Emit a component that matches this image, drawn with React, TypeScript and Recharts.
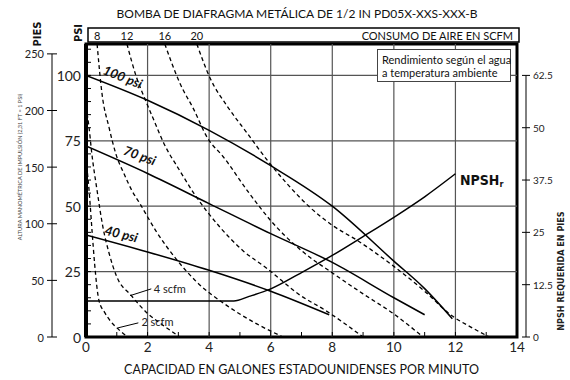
import { ComposedChart, Line, XAxis, YAxis, ReferenceLine, ReferenceArea, ReferenceDot } from 'recharts';

// curvas de presión de aire (gpm -> psi)
const PSI100_GPM = [0, 2, 4, 6, 8, 10, 11, 11.9];
const PSI100_HEAD = [100, 90.5, 79, 65.5, 50, 29, 18.5, 7];
const PSI70_GPM = [0, 2, 4, 6, 8, 10, 11];
const PSI70_HEAD = [73, 62.5, 51, 39.5, 28.5, 15, 8.5];
const PSI40_GPM = [0, 2, 4, 6, 7.9];
const PSI40_HEAD = [39, 32.5, 25.5, 17.5, 8.5];

// NPSH requerida (gpm -> pies)
const NPSH_GPM = [0, 4.8, 5.3, 6, 7, 8, 9, 10, 11, 12];
const NPSH_FT = [8.6, 8.6, 9.7, 11.5, 15.4, 19.5, 24, 28.6, 33.5, 39];

// consumo de aire (scfm)
const SCFM2_GPM = [0, 0.1, 0.2, 0.28, 0.42, 0.6, 0.8, 1.05, 1.35];
const SCFM2_HEAD = [68, 56, 40, 28, 14, 9.5, 6, 3, 0];
const SCFM4_GPM = [0, 0.1, 0.18, 0.36, 0.55, 0.75, 1.0, 1.46, 2.0, 2.5, 3.05];
const SCFM4_HEAD = [88, 80, 71, 56, 42, 32, 23, 16, 9, 4.5, 0];
const SCFM8_GPM = [0.36, 0.52, 0.75, 0.97, 1.25, 1.49, 1.75, 2.3, 2.95, 3.6, 4.58, 5.55, 6.4];
const SCFM8_HEAD = [112, 93, 80, 70, 62, 56, 51, 40, 29.5, 21, 12, 5, 0];
const SCFM12_GPM = [1.33, 1.62, 1.95, 2.2, 2.53, 3.05, 3.5, 4.35, 5.1, 5.9, 6.95, 7.8, 9.0];
const SCFM12_HEAD = [112, 100, 90, 83, 74, 63.5, 55, 42, 33, 26, 16, 10, 0];
const SCFM16_GPM = [2.56, 3.05, 3.5, 3.95, 4.45, 5.3, 6, 7, 8, 9, 10, 10.95];
const SCFM16_HEAD = [112, 97, 87, 76, 69, 55, 44.5, 33, 24.5, 16.5, 8.8, 0];
const SCFM20_GPM = [3.6, 4.03, 4.6, 5.23, 5.88, 6.5, 7.27, 8.0, 8.8, 10, 11, 11.9, 12.5, 13.1];
const SCFM20_HEAD = [112, 99, 88, 78, 67.7, 59, 49.6, 42.7, 37, 27, 17.5, 8, 3.8, 0];

const SCFM_TOP_LABELS = ['8', '12', '16', '20'];
const SCFM_TOP_GPM = [SCFM8_GPM[0], SCFM12_GPM[0], SCFM16_GPM[0], SCFM20_GPM[0]];

// ejes
const GPM_TICKS = [0, 1, 2, 3, 4, 5, 6, 7, 8, 9, 10, 11, 12, 13, 14];
const PSI_TICKS = [0, 5, 10, 15, 20, 25, 30, 35, 40, 45, 50, 55, 60, 65, 70, 75, 80, 85, 90, 95, 100, 105, 110];
const PIES_TICKS = [0, 50, 100, 150, 200, 250];
const NPSH_TICKS = [0, 12.5, 25, 37.5, 50, 62.5];
const GRID_GPM = [2, 4, 6, 8, 10, 12];
const GRID_PSI = [25, 50, 75, 100];

const GPM_MAX = 14;
const PSI_MAX = 112;
const PIES_MAX = PSI_MAX * 2.31; // 2,31 ft = 1 psi
const NPSH_MAX = PSI_MAX * 0.625;

// etiquetas sobre las curvas
const CURVE_LABELS = [
  { text: '100 psi', gpm: 1.2, psi: 99.5, angle: 22 },
  { text: '70 psi', gpm: 1.75, psi: 69.5, angle: 20 },
  { text: '40 psi', gpm: 1.15, psi: 39.5, angle: 14 },
];
const SCFM_NOTES = [
  { text: '4 scfm', gpm: 2.2, psi: 18.6, from: [1.43, 15.8], to: [2.12, 18.4] },
  { text: '2 scfm', gpm: 1.8, psi: 6.0, from: [1.04, 3.5], to: [1.7, 5.4] },
];

const pts = (xs: number[], ys: number[]) => xs.map((x, i) => ({ x, y: ys[i] }));

const FONT = 'Lato, "Open Sans", sans-serif';
const NARROW = '"Liberation Sans Narrow", "DejaVu Sans Condensed", Lato, sans-serif';

const W = 570;
const H = 380;
const MARGIN = { top: 28, right: 0, bottom: 0, left: 12 };
const PIES_W = 40;
const PSI_W = 34;
const NPSH_W = 53;
const TOP_H = 16;
const BOTTOM_H = 43;
const PLOT_L = MARGIN.left + PIES_W + PSI_W;
const PLOT_R = W - MARGIN.right - NPSH_W;
const PLOT_T = MARGIN.top + TOP_H;
const PLOT_B = H - MARGIN.bottom - BOTTOM_H;
const PLOT_H = PLOT_B - PLOT_T;

const PIES_X = MARGIN.left + PIES_W;
const NPSH_X = PLOT_R + 9;

const PsiTick = (p: any) => {
  const v = p.payload.value;
  return (
    <g>
      <line x1={PLOT_L} x2={PLOT_L + 5} y1={p.y} y2={p.y} stroke="#000" strokeWidth={1} />
      {v % 25 === 0 && (
        <text x={PLOT_L - 5} y={p.y} textAnchor="end" dominantBaseline="central" fontSize={14} fill="#222" fontFamily={FONT}>
          {v}
        </text>
      )}
    </g>
  );
};

const PiesTick = (p: any) => {
  const v = p.payload.value;
  const step = (PLOT_H * 50) / PIES_MAX;
  return (
    <g>
      {v > 0 && <line x1={PIES_X} x2={PIES_X} y1={p.y} y2={p.y + step} stroke="#000" strokeWidth={1} />}
      <line x1={PIES_X - 5} x2={PIES_X + 5} y1={p.y} y2={p.y} stroke="#000" strokeWidth={1} />
      <text x={PIES_X - 8} y={p.y} textAnchor="end" dominantBaseline="central" fontSize={11} fill="#222" fontFamily={FONT}>
        {v}
      </text>
    </g>
  );
};

const NpshTick = (p: any) => {
  const v = p.payload.value;
  const step = (PLOT_H * 12.5) / NPSH_MAX;
  return (
    <g>
      {v > 0 && <line x1={NPSH_X} x2={NPSH_X} y1={p.y} y2={p.y + step} stroke="#000" strokeWidth={1} />}
      <line x1={NPSH_X - 4} x2={NPSH_X + 4} y1={p.y} y2={p.y} stroke="#000" strokeWidth={1} />
      <text x={NPSH_X + 7} y={p.y} dominantBaseline="central" fontSize={10} fill="#222" fontFamily={FONT}>
        {v}
      </text>
    </g>
  );
};

const GpmTick = (p: any) => {
  const v = p.payload.value;
  return (
    <g>
      <line x1={p.x} x2={p.x} y1={PLOT_B} y2={PLOT_B - 5} stroke="#000" strokeWidth={1} />
      {v % 2 === 0 && (
        <text x={p.x} y={PLOT_B + 10} textAnchor="middle" dominantBaseline="central" fontSize={13.5} fill="#222" fontFamily={FONT}>
          {v}
        </text>
      )}
    </g>
  );
};

const TopTick = (p: any) => (
  <text x={p.x} y={PLOT_T - 9} textAnchor="middle" dominantBaseline="central" fontSize={11} fill="#111" fontFamily={FONT}>
    {SCFM_TOP_LABELS[SCFM_TOP_GPM.indexOf(p.payload.value)]}
  </text>
);

const TopBox = () => (
  <g>
    <rect x={PLOT_L + 2} y={PLOT_T - 16} width={PLOT_R - PLOT_L} height={14} fill="none" stroke="#000" strokeWidth={1.5} />
    <text x={PLOT_R - 4} y={PLOT_T - 9} textAnchor="end" dominantBaseline="central" fontSize={11} fill="#111" fontFamily={FONT}>
      CONSUMO DE AIRE EN SCFM
    </text>
  </g>
);

const PiesLabel = () => (
  <g fontFamily={NARROW}>
    <text transform={`translate(${PIES_X - 15}, 34) rotate(-90)`} textAnchor="middle" dominantBaseline="central" fontSize={11} fontWeight="bold" fill="#111">
      PIES
    </text>
    <text transform={`translate(19, 167) rotate(-90)`} textAnchor="middle" dominantBaseline="central" fontSize={5.6} fill="#444" fontFamily={FONT}>
      ALTURA MANOMÉTRICA DE IMPULSIÓN (2,31 FT = 1 PSI)
    </text>
  </g>
);

const PsiLabel = () => (
  <text transform={`translate(${PLOT_L - 8}, 33) rotate(-90)`} textAnchor="middle" dominantBaseline="central" fontSize={11} fontWeight="bold" fill="#111" fontFamily={NARROW}>
    PSI
  </text>
);

const NpshLabel = () => (
  <text transform={`translate(561, 271) rotate(-90)`} textAnchor="middle" dominantBaseline="central" fontSize={9} fontWeight="bold" fill="#222" fontFamily={NARROW}>
    NPSH REQUERIDA EN PIES
  </text>
);

const solid = { stroke: '#000', strokeWidth: 1.5, dot: false, isAnimationActive: false, type: 'monotone' as const, dataKey: 'y', yAxisId: 'psi' };
const dashed = { ...solid, strokeWidth: 1.3, strokeDasharray: '4 3' };

export default function App() {
  return (
    <div style={{ position: 'absolute', left: 0, top: 0, width: W, height: H, background: '#fff', fontFamily: FONT }}>
      <div style={{ position: 'absolute', left: 0, width: 594, top: 5, textAlign: 'center', fontSize: 12, color: '#111', lineHeight: '18px' }}>
        BOMBA DE DIAFRAGMA METÁLICA DE 1/2 IN PD05X-XXS-XXX-B
      </div>
      <div style={{ position: 'absolute', left: 377, top: 49, width: 134, height: 33, border: '1px solid #444', background: '#fff', fontSize: 11, lineHeight: '13px', color: '#111', padding: '3px 0 0 4px', boxSizing: 'border-box', whiteSpace: 'nowrap', zIndex: 2 }}>
        Rendimiento según el agua
        <br />a temperatura ambiente
      </div>
      <div style={{ position: 'absolute', left: 0, top: 0 }}>
        <ComposedChart width={W} height={H} margin={MARGIN}>
          <XAxis xAxisId={0} type="number" dataKey="x" domain={[0, GPM_MAX]} ticks={GPM_TICKS} interval={0} height={BOTTOM_H}
            axisLine={false} tickLine={false} tick={GpmTick} allowDataOverflow
            label={{ value: 'CAPACIDAD EN GALONES ESTADOUNIDENSES POR MINUTO', position: 'insideBottom', offset: 6, fontSize: 12.5, fill: '#111', fontFamily: FONT }} />
          <XAxis xAxisId="top" orientation="top" type="number" dataKey="x" domain={[0, GPM_MAX]} ticks={SCFM_TOP_GPM} interval={0} height={TOP_H}
            axisLine={false} tickLine={false} tick={TopTick} label={TopBox} allowDataOverflow />
          <YAxis yAxisId="psi" type="number" domain={[0, PSI_MAX]} ticks={PSI_TICKS} interval={0} width={PSI_W}
            axisLine={false} tickLine={false} tick={PsiTick} label={PsiLabel} allowDataOverflow />
          <YAxis yAxisId="pies" type="number" domain={[0, PIES_MAX]} ticks={PIES_TICKS} interval={0} width={PIES_W}
            axisLine={false} tickLine={false} tick={PiesTick} label={PiesLabel} allowDataOverflow />
          <YAxis yAxisId="npsh" orientation="right" type="number" domain={[0, NPSH_MAX]} ticks={NPSH_TICKS} interval={0} width={NPSH_W}
            axisLine={false} tickLine={false} tick={NpshTick} label={NpshLabel} allowDataOverflow />

          <ReferenceLine y={0} yAxisId="pies" stroke="none" ifOverflow="extendDomain" />
          <ReferenceLine x={0} xAxisId="top" yAxisId="psi" stroke="none" ifOverflow="extendDomain" />

          {GRID_GPM.map((g) => (
            <ReferenceLine key={'gx' + g} x={g} yAxisId="psi" stroke="#555" strokeWidth={1.2} />
          ))}
          {GRID_PSI.map((g) => (
            <ReferenceLine key={'gy' + g} y={g} yAxisId="psi" stroke="#555" strokeWidth={1.2} />
          ))}

          <Line {...dashed} data={pts(SCFM2_GPM, SCFM2_HEAD)} />
          <Line {...dashed} data={pts(SCFM4_GPM, SCFM4_HEAD)} />
          <Line {...dashed} data={pts(SCFM8_GPM, SCFM8_HEAD)} />
          <Line {...dashed} data={pts(SCFM12_GPM, SCFM12_HEAD)} />
          <Line {...dashed} data={pts(SCFM16_GPM, SCFM16_HEAD)} />
          <Line {...dashed} data={pts(SCFM20_GPM, SCFM20_HEAD)} />

          <Line {...solid} data={pts(PSI100_GPM, PSI100_HEAD)} />
          <Line {...solid} data={pts(PSI70_GPM, PSI70_HEAD)} />
          <Line {...solid} data={pts(PSI40_GPM, PSI40_HEAD)} />
          <Line {...solid} yAxisId="npsh" data={pts(NPSH_GPM, NPSH_FT)} />

          {SCFM_NOTES.map((n) => (
            <ReferenceLine key={'ln' + n.text} yAxisId="psi" stroke="#000" strokeWidth={1}
              segment={[{ x: n.from[0], y: n.from[1] }, { x: n.to[0], y: n.to[1] }]} />
          ))}
          {SCFM_NOTES.map((n) => (
            <ReferenceDot key={'nt' + n.text} x={n.gpm} y={n.psi} yAxisId="psi" r={0}
              shape={(p: any) => (
                <text x={p.cx} y={p.cy} dominantBaseline="central" fontSize={11} fill="#222" fontFamily={FONT}>{n.text}</text>
              )} />
          ))}
          {CURVE_LABELS.map((c) => (
            <ReferenceDot key={'cl' + c.text} x={c.gpm} y={c.psi} yAxisId="psi" r={0}
              shape={(p: any) => (
                <text transform={`translate(${p.cx}, ${p.cy}) rotate(${c.angle})`} textAnchor="middle" dominantBaseline="central"
                  fontSize={13} fontWeight="bold" fontStyle="italic" fill="#111" fontFamily={FONT}>{c.text}</text>
              )} />
          ))}
          <ReferenceDot x={12.15} y={NPSH_FT[NPSH_FT.length - 1] - 1.5} yAxisId="npsh" r={0}
            shape={(p: any) => (
              <text x={p.cx} y={p.cy} dominantBaseline="central" fontSize={14} fontWeight="bold" fill="#111" fontFamily={NARROW}>
                NPSH<tspan fontSize={9} dy={4}>r</tspan>
              </text>
            )} />

          <ReferenceArea x1={0} x2={GPM_MAX} y1={0} y2={PSI_MAX} yAxisId="psi" fill="none" stroke="#000" strokeWidth={3} ifOverflow="visible" />
          <ReferenceLine x={0} yAxisId="psi" stroke="#000" strokeWidth={4} />
        </ComposedChart>
      </div>
    </div>
  );
}
